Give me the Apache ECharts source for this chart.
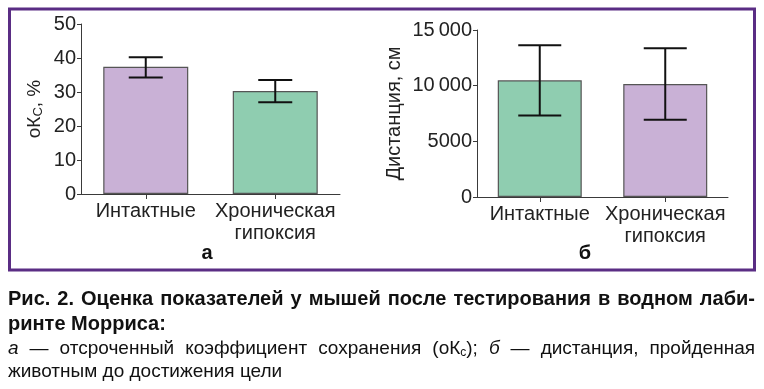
<!DOCTYPE html>
<html><head><meta charset="utf-8">
<script src="https://cdn.jsdelivr.net/npm/echarts@6/dist/echarts.min.js"></script>
<style>html,body{margin:0;padding:0;background:#fff}#c{width:764px;height:389px}</style>
</head><body><div id="c"></div>
<script>
// Panel A: delayed retention coefficient (%)
const categoriesA = ['Интактные', 'Хроническая\nгипоксия'];
const valuesA = [37.4, 30.3];
const errLowA = [34.3, 27.0];
const errHighA = [40.2, 33.5];
const ticksA = [0, 10, 20, 30, 40, 50];

// Panel B: distance (cm)
const categoriesB = ['Интактные', 'Хроническая\nгипоксия'];
const valuesB = [10480, 10150];
const errLowB = [7330, 6930];
const errHighB = [13620, 13350];
const ticksB = ['0', '5000', '10\u2009000', '15\u2009000'];

const purple = '#c9b1d6', green = '#8fcdb0';
const font = 'Liberation Sans, Arial, sans-serif';
const axisCol = '#3a3a3a';

function errSeries(xi, yi, low, high, cap) {
  return {
    type: 'custom', xAxisIndex: xi, yAxisIndex: yi, z: 5,
    data: low.map((l, i) => [i, l, high[i]]),
    renderItem: function (params, api) {
      const x = api.value(0);
      const lo = api.coord([x, api.value(1)]);
      const hi = api.coord([x, api.value(2)]);
      const st = { stroke: '#111', lineWidth: 2 };
      return { type: 'group', children: [
        { type: 'line', shape: { x1: lo[0], y1: lo[1], x2: hi[0], y2: hi[1] }, style: st },
        { type: 'line', shape: { x1: lo[0] - cap / 2, y1: lo[1], x2: lo[0] + cap / 2, y2: lo[1] }, style: st },
        { type: 'line', shape: { x1: hi[0] - cap / 2, y1: hi[1], x2: hi[0] + cap / 2, y2: hi[1] }, style: st }
      ]};
    }
  };
}

const catAxis = (gi, data) => ({
  type: 'category', gridIndex: gi, data: data,
  axisLine: { lineStyle: { color: axisCol, width: 1 } },
  axisTick: { show: true, alignWithLabel: true, length: 5, lineStyle: { color: axisCol } },
  axisLabel: { interval: 0, color: '#222', fontSize: 20, fontFamily: font, lineHeight: 22, margin: 6 }
});

// ---- caption (justified text layout) ----
const F = {
  b: 'bold 20px ' + font,
  n: '19px ' + font,
  i: 'italic 19px ' + font,
  s: '12px ' + font
};
const ctx = document.createElement('canvas').getContext('2d');
function segW(seg) { ctx.font = F[seg[1]]; return ctx.measureText(seg[0]).width; }
const richStyles = {
  b: { font: F.b, fill: '#111' },
  n: { font: F.n, fill: '#111' },
  i: { font: F.i, fill: '#111' },
  s: { font: F.s, fill: '#111', verticalAlign: 'bottom', padding: [7, 0, 0, 0] }
};
function tokenText(tok) { return tok.map(s => '{' + s[1] + '|' + s[0] + '}').join(''); }
function lineEls(tokens, y, justify, x0, x1) {
  const widths = tokens.map(t => t.reduce((a, s) => a + segW(s), 0));
  const total = widths.reduce((a, b) => a + b, 0);
  const spaceW = segW([' ', tokens[0][0][1]]);
  const gap = justify ? (x1 - x0 - total) / (tokens.length - 1) : spaceW;
  let x = x0;
  return tokens.map((t, k) => {
    const el = { type: 'text', x: x, y: y, silent: true,
      style: { text: tokenText(t), rich: richStyles, textVerticalAlign: 'middle' } };
    x += widths[k] + gap;
    return el;
  });
}
const wordsOf = (str, f) => str.split(' ').map(w => [[w, f]]);
const line1 = wordsOf('Рис. 2. Оценка показателей у мышей после тестирования в водном лаби-', 'b');
const line2 = wordsOf('ринте Морриса:', 'b');
const line3 = [[['а', 'i']], [['—', 'n']]].concat(wordsOf('отсроченный коэффициент сохранения', 'n'))
  .concat([[['(оК', 'n'], ['с', 's'], [');', 'n']], [['б', 'i']], [['—', 'n']]])
  .concat(wordsOf('дистанция, пройденная', 'n'));
const line4 = wordsOf('животным до достижения цели', 'n');
const captionEls = []
  .concat(lineEls(line1, 299, true, 8, 755))
  .concat(lineEls(line2, 324, false, 8, 755))
  .concat(lineEls(line3, 349, true, 8, 755))
  .concat(lineEls(line4, 372, false, 8, 755));

const chart = echarts.init(document.getElementById('c'), null, { renderer: 'canvas' });
chart.setOption({
  animation: false,
  grid: [
    { left: 81, right: 424, top: 24, bottom: 195 },
    { left: 477, right: 36, top: 30, bottom: 192 }
  ],
  xAxis: [catAxis(0, categoriesA), catAxis(1, categoriesB)],
  yAxis: [
    { type: 'value', gridIndex: 0, min: ticksA[0], max: ticksA[ticksA.length - 1], interval: 10,
      splitLine: { show: false },
      axisLine: { show: true, lineStyle: { color: axisCol } },
      axisTick: { show: true, length: 4, lineStyle: { color: axisCol } },
      axisLabel: { color: '#222', fontSize: 20, fontFamily: font, margin: 5 },
      name: '{a|оК}{s|С}{a|, %}', nameLocation: 'middle', nameGap: 36, nameRotate: 90,
      nameTextStyle: { rich: {
        a: { fontSize: 19, fontFamily: font, color: '#222' },
        s: { fontSize: 13, fontFamily: font, color: '#222', verticalAlign: 'bottom', padding: [8, 0, 0, 0] }
      } }
    },
    { type: 'value', gridIndex: 1, min: 0, max: 15000, interval: 5000,
      splitLine: { show: false },
      axisLine: { show: true, lineStyle: { color: axisCol } },
      axisTick: { show: true, length: 4, lineStyle: { color: axisCol } },
      axisLabel: { color: '#222', fontSize: 20, fontFamily: font, margin: 5,
        formatter: v => ticksB[Math.round(v / 5000)] },
      name: 'Дистанция, см', nameLocation: 'middle', nameGap: 73, nameRotate: 90,
      nameTextStyle: { fontSize: 20, fontFamily: font, color: '#222' }
    }
  ],
  series: [
    { type: 'bar', xAxisIndex: 0, yAxisIndex: 0, barWidth: 85,
      data: valuesA.map((v, i) => ({ value: v, itemStyle: { color: i === 0 ? purple : green } })),
      itemStyle: { borderColor: '#555', borderWidth: 1.2 } },
    errSeries(0, 0, errLowA, errHighA, 34),
    { type: 'bar', xAxisIndex: 1, yAxisIndex: 1, barWidth: 84,
      data: valuesB.map((v, i) => ({ value: v, itemStyle: { color: i === 0 ? green : purple } })),
      itemStyle: { borderColor: '#555', borderWidth: 1.2 } },
    errSeries(1, 1, errLowB, errHighB, 43)
  ],
  graphic: [
    { type: 'rect', shape: { x: 9.5, y: 9, width: 745, height: 261 }, style: { fill: 'none', stroke: '#5a2d84', lineWidth: 3 }, silent: true },
    { type: 'text', x: 207, y: 253, style: { text: 'а', font: 'bold 20px ' + font, fill: '#111', textAlign: 'center', textVerticalAlign: 'middle' } },
    { type: 'text', x: 585, y: 253, style: { text: 'б', font: 'bold 20px ' + font, fill: '#111', textAlign: 'center', textVerticalAlign: 'middle' } }
  ].concat(captionEls)
});
</script></body></html>
